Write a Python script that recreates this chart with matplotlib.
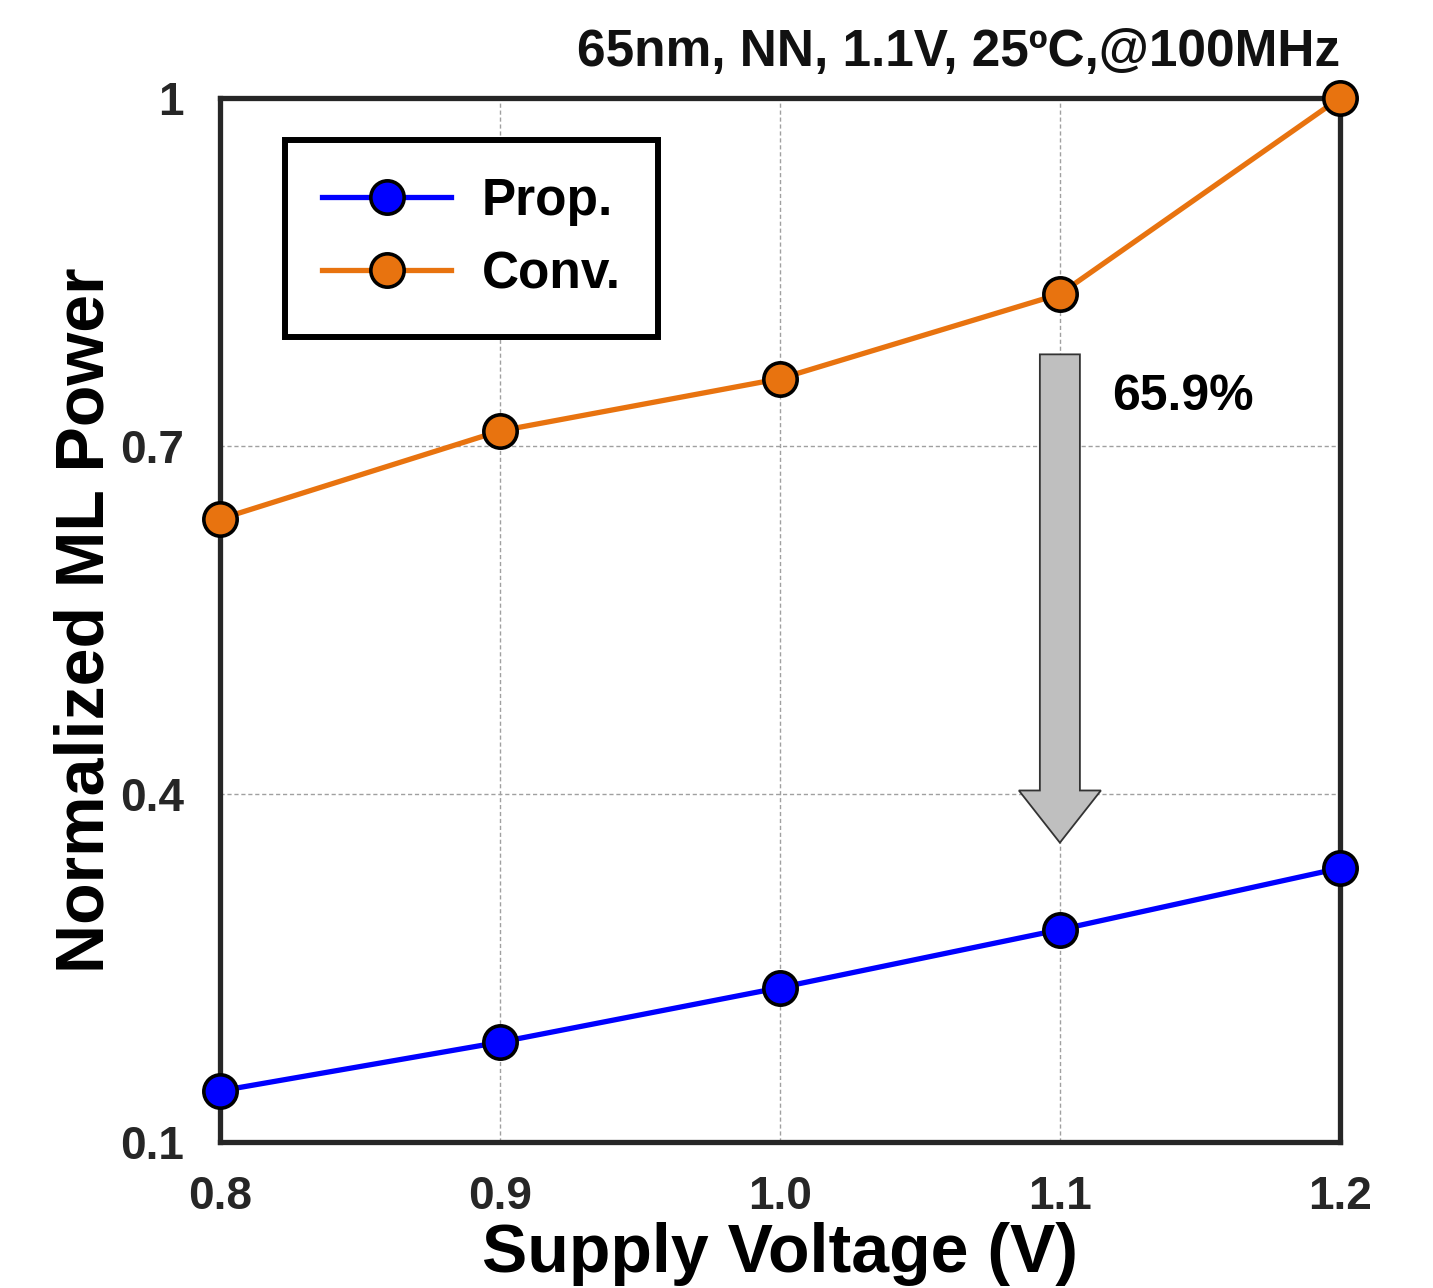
import matplotlib
matplotlib.use("Agg")
import matplotlib.pyplot as plt
from matplotlib.patches import FancyArrow

voltage = [0.8, 0.9, 1.0, 1.1, 1.2]
prop = [0.144, 0.186, 0.233, 0.283, 0.336]
conv = [0.637, 0.713, 0.758, 0.831, 1.0]
yticks = [0.1, 0.4, 0.7, 1.0]
ytick_labels = ["0.1", "0.4", "0.7", "1"]
xtick_labels = ["0.8", "0.9", "1.0", "1.1", "1.2"]
title_text = "65nm, NN, 1.1V, 25ºC,@100MHz"
reduction_text = "65.9%"

plt.rcParams['font.family'] = ['Liberation Sans', 'DejaVu Sans']
plt.rcParams['font.weight'] = 'bold'

fig = plt.figure(figsize=(14.33, 12.88), dpi=100)
ax = fig.add_axes([0.1535, 0.1134, 0.7815, 0.8105])

ax.plot(voltage, prop, color='#0000FF', lw=3.8, marker='o', ms=24,
        mfc='#0000FF', mec='black', mew=2.6, label='Prop.', zorder=5, clip_on=False)
ax.plot(voltage, conv, color='#E8730F', lw=3.8, marker='o', ms=24,
        mfc='#E8730F', mec='black', mew=2.6, label='Conv.', zorder=5, clip_on=False)

ax.set_xlim(0.8, 1.2)
ax.set_ylim(0.1, 1.0)
ax.set_xticks(voltage)
ax.set_xticklabels(xtick_labels)
ax.set_yticks(yticks)
ax.set_yticklabels(ytick_labels)
ax.tick_params(axis='both', length=0, labelsize=33, labelcolor='#262626')
ax.tick_params(axis='x', pad=24)
ax.tick_params(axis='y', pad=26)
for lab in ax.get_xticklabels() + ax.get_yticklabels():
    lab.set_fontweight('bold')

ax.grid(True, color='#A0A0A0', linestyle=(0, (3, 2)), linewidth=1.0)
ax.set_axisbelow(True)
for s in ax.spines.values():
    s.set_linewidth(3.8)
    s.set_color('#262626')

ax.set_xlabel('Supply Voltage (V)', fontsize=49, fontweight='bold', labelpad=2)
ax.set_ylabel('Normalized ML Power', fontsize=49, fontweight='bold', labelpad=2)

ax.text(1.0, 1.02, title_text, transform=ax.transAxes, ha='right', va='bottom',
        fontsize=37, fontweight='bold', color='#111111')

arrow = FancyArrow(1.1, 0.779, 0, -0.421, width=0.0143, head_width=0.0293,
                   head_length=0.045, length_includes_head=True,
                   facecolor='#BFBFBF', edgecolor='#333333', linewidth=1.3, zorder=4)
ax.add_patch(arrow)
ax.text(1.1186, 0.742, reduction_text, ha='left', va='center', fontsize=36,
        fontweight='bold', color='black')

leg = ax.legend(loc='upper left', bbox_to_anchor=(0.058, 0.96), borderaxespad=0,
                fontsize=37, handlelength=2.5, handletextpad=0.6, borderpad=0.73,
                labelspacing=0.47, fancybox=False, edgecolor='black', framealpha=1)
leg.get_frame().set_linewidth(4.3)
for t in leg.get_texts():
    t.set_fontweight('bold')

fig.savefig('out.png', dpi=100)
